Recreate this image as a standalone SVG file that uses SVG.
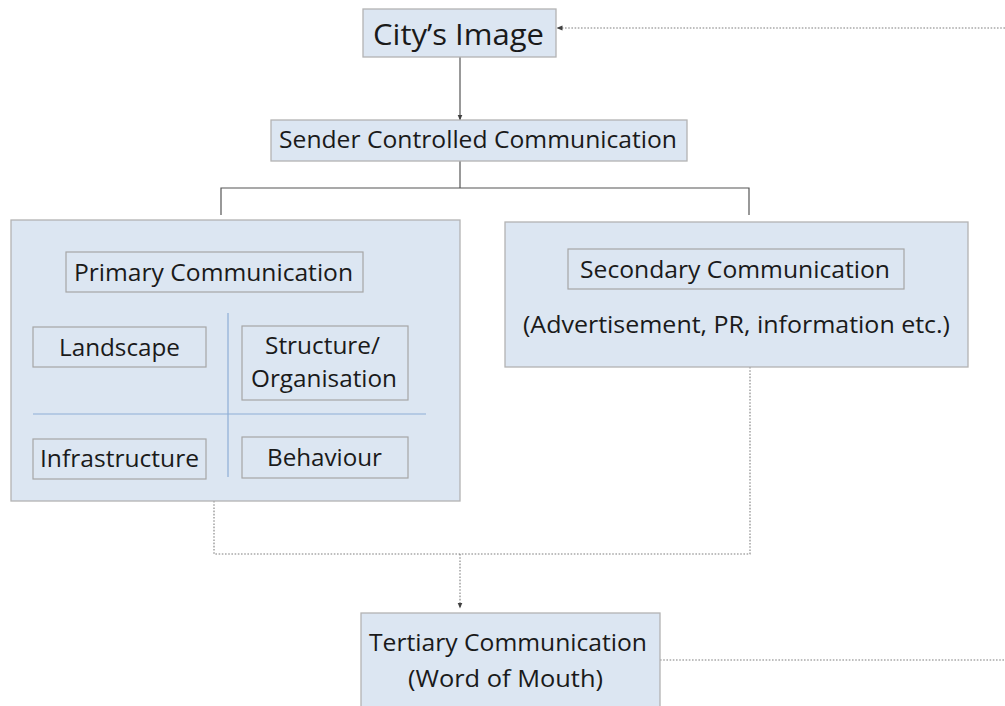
<svg xmlns="http://www.w3.org/2000/svg" width="1005" height="706" viewBox="0 0 1005 706">
  <defs>
    <marker id="tip" viewBox="0 0 6 6" refX="5.5" refY="3" markerWidth="6" markerHeight="6" markerUnits="userSpaceOnUse" orient="auto">
      <path d="M0,0.5 L6,3 L0,5.5 Z" fill="#404040"/>
    </marker>
  </defs>
  <style>
    .box { fill: #dce6f2; stroke: #b3b3b3; stroke-width: 1.3; }
    .inner { fill: none; stroke: #a6a6a6; stroke-width: 1.2; }
    .divider { stroke: #8eaed6; stroke-width: 1.2; fill: none; }
    .solid { stroke: #555555; stroke-width: 1.2; fill: none; }
    .dotted { stroke: #7f7f7f; stroke-width: 1.1; stroke-dasharray: 1.6 1.6; fill: none; }
    text { font-family: "Open Sans", "Noto Sans", "Liberation Sans", sans-serif; fill: #1a1a1a; text-anchor: middle; }
    .t23 { font-size: 23px; }
    .t29 { font-size: 29px; }
  </style>

  <rect width="1005" height="706" fill="#ffffff"/>

  <!-- connectors -->
  <g id="connectors">
    <line class="solid" x1="460" y1="57" x2="460" y2="120" marker-end="url(#tip)"/>
    <polyline class="solid" points="460,161 460,188"/>
    <polyline class="solid" points="221,215 221,188 749,188 749,215"/>
    <polyline class="dotted" points="214,501 214,554 750,554 750,367"/>
    <line class="dotted" x1="460" y1="554" x2="460" y2="608" marker-end="url(#tip)"/>
    <polyline class="dotted" points="660,660 1005,660"/>
    <line class="dotted" x1="1005" y1="28" x2="557" y2="28" marker-end="url(#tip)"/>
  </g>

  <!-- top node -->
  <g id="city-image">
    <rect class="box" x="363" y="9" width="193" height="48"/>
    <text class="t29" x="458.5" y="45" textLength="171" lengthAdjust="spacingAndGlyphs">City’s Image</text>
  </g>

  <g id="sender-controlled">
    <rect class="box" x="271" y="120" width="416" height="41"/>
    <text class="t23" x="478" y="148" textLength="398" lengthAdjust="spacingAndGlyphs">Sender Controlled Communication</text>
  </g>

  <!-- primary communication panel -->
  <g id="primary">
    <rect class="box" x="11" y="220" width="449" height="281"/>
    <rect class="inner" x="66" y="252" width="297" height="40"/>
    <text class="t23" x="213.5" y="281" textLength="279" lengthAdjust="spacingAndGlyphs">Primary Communication</text>
    <line class="divider" x1="228" y1="313" x2="228" y2="477"/>
    <line class="divider" x1="33" y1="414" x2="426" y2="414"/>
  </g>

  <g id="landscape">
    <rect class="inner" x="33" y="327" width="173" height="40"/>
    <text class="t23" x="119.5" y="356" textLength="121" lengthAdjust="spacingAndGlyphs">Landscape</text>
  </g>

  <g id="structure">
    <rect class="inner" x="242" y="326" width="166" height="74"/>
    <text class="t23" x="322.5" y="354" textLength="115" lengthAdjust="spacingAndGlyphs">Structure/</text>
    <text class="t23" x="324" y="387" textLength="146" lengthAdjust="spacingAndGlyphs">Organisation</text>
  </g>

  <g id="infrastructure">
    <rect class="inner" x="33" y="439" width="173" height="40"/>
    <text class="t23" x="119.5" y="467" textLength="159" lengthAdjust="spacingAndGlyphs">Infrastructure</text>
  </g>

  <g id="behaviour">
    <rect class="inner" x="242" y="437" width="166" height="41"/>
    <text class="t23" x="324.5" y="466" textLength="115" lengthAdjust="spacingAndGlyphs">Behaviour</text>
  </g>

  <!-- secondary communication panel -->
  <g id="secondary">
    <rect class="box" x="505" y="222" width="463" height="145"/>
    <rect class="inner" x="568" y="249" width="336" height="40"/>
    <text class="t23" x="735" y="278" textLength="310" lengthAdjust="spacingAndGlyphs">Secondary Communication</text>
    <text class="t23" x="736.5" y="333" textLength="427" lengthAdjust="spacingAndGlyphs">(Advertisement, PR, information etc.)</text>
  </g>

  <!-- tertiary communication -->
  <g id="tertiary">
    <rect class="box" x="361" y="613" width="299" height="100"/>
    <text class="t23" x="508" y="651" textLength="278" lengthAdjust="spacingAndGlyphs">Tertiary Communication</text>
    <text class="t23" x="505.5" y="687" textLength="195" lengthAdjust="spacingAndGlyphs">(Word of Mouth)</text>
  </g>
</svg>
